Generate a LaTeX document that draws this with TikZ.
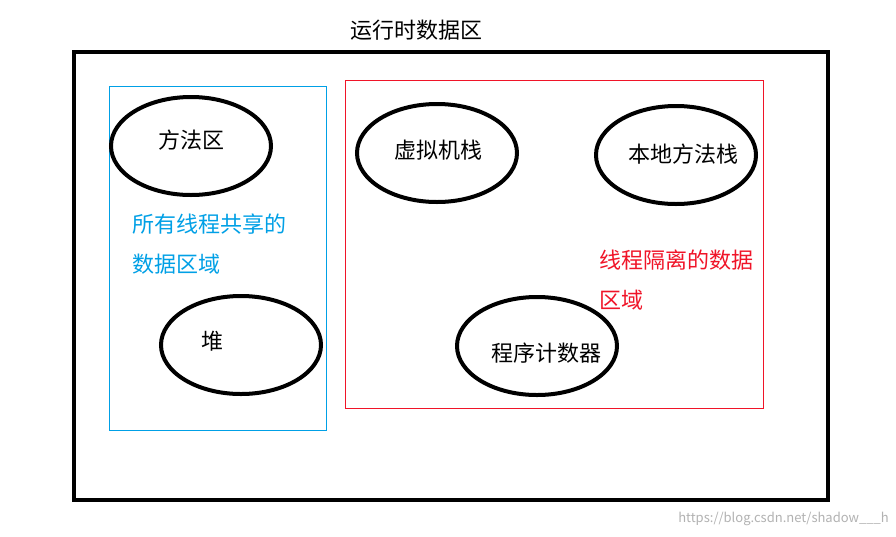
\documentclass[tikz,border=0pt]{standalone}
\usepackage{fontspec}
\setmainfont{Noto Sans CJK SC}
\usetikzlibrary{shapes.geometric}
\definecolor{sharedblue}{RGB}{0,160,230}
\definecolor{isored}{RGB}{240,20,40}
\begin{document}
\begin{tikzpicture}[x=1pt,y=-1pt,
  oval/.style={draw=black,line width=4pt,ellipse,minimum width=160pt,minimum height=98pt,inner sep=0pt},
  lbl/.style={font=\fontsize{22}{24}\selectfont,inner sep=0pt},
  note/.style={font=\fontsize{22}{40}\selectfont,inner sep=0pt,anchor=north west,align=left}]
\useasboundingbox[fill=white] (0,0) rectangle (896,536);
\node[lbl] (title) at (416,30) {运行时数据区};
\draw[line width=4pt] (74,52) rectangle (828,500);
\draw[sharedblue,line width=0.8pt] (109,86) rectangle (326,430);
\draw[isored,line width=0.8pt] (345,80) rectangle (763,408);
\node[oval] (m) at (191,146) {};
\node[lbl] (mt) at (191,140) {方法区};
\node[oval] (h) at (241,345) {};
\node[lbl] (ht) at (212,341) {堆};
\node[oval] (v) at (437,153) {};
\node[lbl] (vt) at (438,150) {虚拟机栈};
\node[oval] (n) at (676,155) {};
\node[lbl] (nt) at (683,154) {本地方法栈};
\node[oval] (p) at (537,346) {};
\node[lbl] (pt) at (546,353) {程序计数器};
\node[note,text=sharedblue] (st) at (132,214) {所有线程共享的\\数据区域};
\node[note,text=isored] (it) at (599,250) {线程隔离的数据\\区域};
\node[font=\fontsize{13}{14}\selectfont,text=black!30,inner sep=0pt,anchor=east] (wm) at (889,519) {https://blog.csdn.net/shadow\_\_\_h};
\end{tikzpicture}
\end{document}
